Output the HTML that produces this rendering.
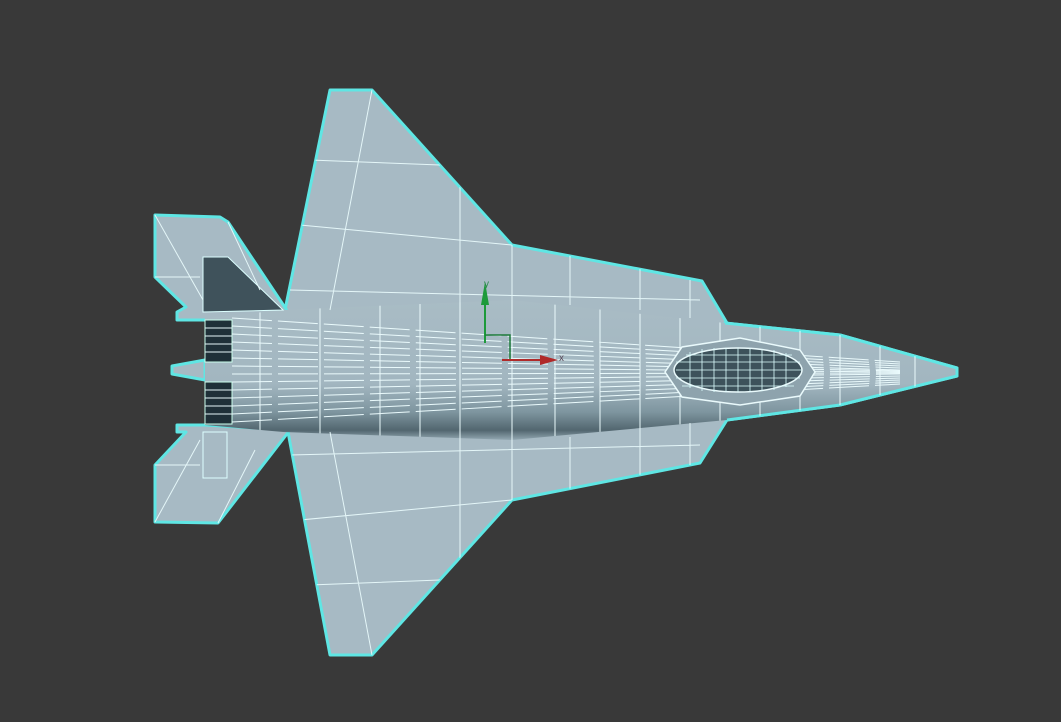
<!DOCTYPE html>
<html><head><meta charset="utf-8"><style>html,body{margin:0;padding:0;background:#393939;}svg{display:block}</style></head>
<body>
<svg width="1061" height="722" viewBox="0 0 1061 722" xmlns="http://www.w3.org/2000/svg" font-family="Liberation Sans, sans-serif">
<defs>
<linearGradient id="fus" x1="0" y1="0" x2="0" y2="1">
<stop offset="0" stop-color="#a9bcc5"/><stop offset="0.6" stop-color="#a2b6c0"/><stop offset="0.8" stop-color="#7e959f"/><stop offset="0.93" stop-color="#52666f"/><stop offset="1" stop-color="#93a8b2"/>
</linearGradient>
<clipPath id="fc"><polygon points="205,318 283,310 512,300 725,323 840,335 957,368 957,376 840,405 727,420 512,440 283,432 205,425"/></clipPath>
<clipPath id="wc"><polygon points="285,310 330,90 372,90 512,245 702,281 727,323 727,420 700,463 512,500 372,655 330,655 288,432"/></clipPath>
</defs>
<rect width="1061" height="722" fill="#393939"/>
<g stroke="#5fe6e4" stroke-width="3" stroke-linejoin="round" fill="#a7bac4">
<polygon points="285,310 330,90 372,90 512,245 702,281 727,323 727,420 700,463 512,500 372,655 330,655 288,432"/>
<polygon points="155,215 220,217 228,222 290,315 205,320 177,320 177,312 186,307 155,277"/>
<polygon points="155,465 186,432 177,432 177,425 205,425 290,430 218,523 155,522"/>
<polygon points="725,323 840,335 957,368 957,376 840,405 727,420"/>
<polygon points="205,360 172,366 172,374 205,380"/>
</g>
<polygon points="205,318 283,310 512,300 725,323 840,335 957,368 957,376 840,405 727,420 512,440 283,432 205,425" fill="url(#fus)"/>
<path d="M725,323 L840,335 L957,368 L957,376 L840,405 L727,420" fill="none" stroke="#5fe6e4" stroke-width="3" stroke-linejoin="round"/>
<polygon points="203,257 228,257 283,310 203,312" fill="#3f525b" stroke="#dff" stroke-width="1"/>
<rect x="203" y="432" width="24" height="46" fill="#a7bac4" stroke="#dff" stroke-width="1"/>
<g fill="#1f3038" stroke="#cfe" stroke-width="1">
<rect x="205" y="320" width="27" height="42"/><rect x="205" y="382" width="27" height="42"/>
</g>
<g stroke="#e4f6f8" stroke-width="1" fill="none">
<path d="M205,328H232M205,336H232M205,344H232M205,352H232M205,390H232M205,398H232M205,406H232M205,414H232"/>
<path d="M155,215 L203,300 M155,277 L200,277 M228,222 L260,290 M155,522 L200,440 M155,465 L200,465 M218,523 L255,450"/>
</g>
<g clip-path="url(#wc)" stroke="#e4f6f8" stroke-width="1" fill="none">
<path d="M372,90 L330,310 M300,225 L512,245 M310,160 L440,165 M290,290 L700,300 M460,165 L460,305 M512,245 L512,300 M570,255 L570,305 M640,268 L640,310 M690,280 L690,318"/>
<path d="M372,655 L330,432 M300,520 L512,500 M310,585 L440,580 M290,455 L700,445 M460,580 L460,437 M512,500 L512,440 M570,490 L570,437 M640,477 L640,428 M690,465 L690,423"/>
</g>
<g clip-path="url(#fc)" stroke="#eafafc" stroke-width="1" fill="none">
<path d="M232,318 L900,362 M232,326 L900,364 M232,334 L900,366 M232,342 L900,368 M232,350 L900,370 M232,358 L900,371 M232,366 L900,372 M232,374 L900,373 M232,382 L900,374 M232,390 L900,376 M232,398 L900,378 M232,406 L900,380 M232,414 L900,382 M232,422 L900,384" stroke-dasharray="40 6"/>
<path d="M260,300V440M320,300V440M380,300V440M420,300V440M460,300V440M512,300V440M555,300V440M600,300V440M640,300V440M680,300V440M720,300V440M760,300V440M800,300V440M840,300V440M880,300V440M915,300V440"/>
</g>
<polygon points="665,372 682,347 740,338 800,350 815,372 800,396 740,405 682,397" fill="#8ea3ad" stroke="#eafafc" stroke-width="1.5"/>
<ellipse cx="738" cy="370" rx="64" ry="22" fill="#3d525b" stroke="#eafafc" stroke-width="1.5"/>
<g stroke="#dff" stroke-width="0.8">
<path d="M690,352V388M702,349V391M714,348V392M726,348V392M738,348V392M750,348V392M762,349V391M774,350V390M786,353V387M676,362H800M676,370H802M676,378H800M682,386H794M686,355H792"/>
</g>
<g>
<path d="M485,343V300" stroke="#1d9a3a" stroke-width="2"/>
<polygon points="485,282 481,305 489,305" fill="#1d9a3a"/>
<path d="M485,335H510V360" stroke="#1d7a3a" stroke-width="1.5" fill="none"/>
<path d="M502,360H545" stroke="#b02a2a" stroke-width="2"/>
<polygon points="558,360 540,355 540,365" fill="#b02a2a"/>
<text x="484" y="287" font-size="10" fill="#2a8a4a">y</text>
<text x="559" y="361" font-size="10" fill="#5a4a5a">x</text>
</g>
</svg>
</body></html>
